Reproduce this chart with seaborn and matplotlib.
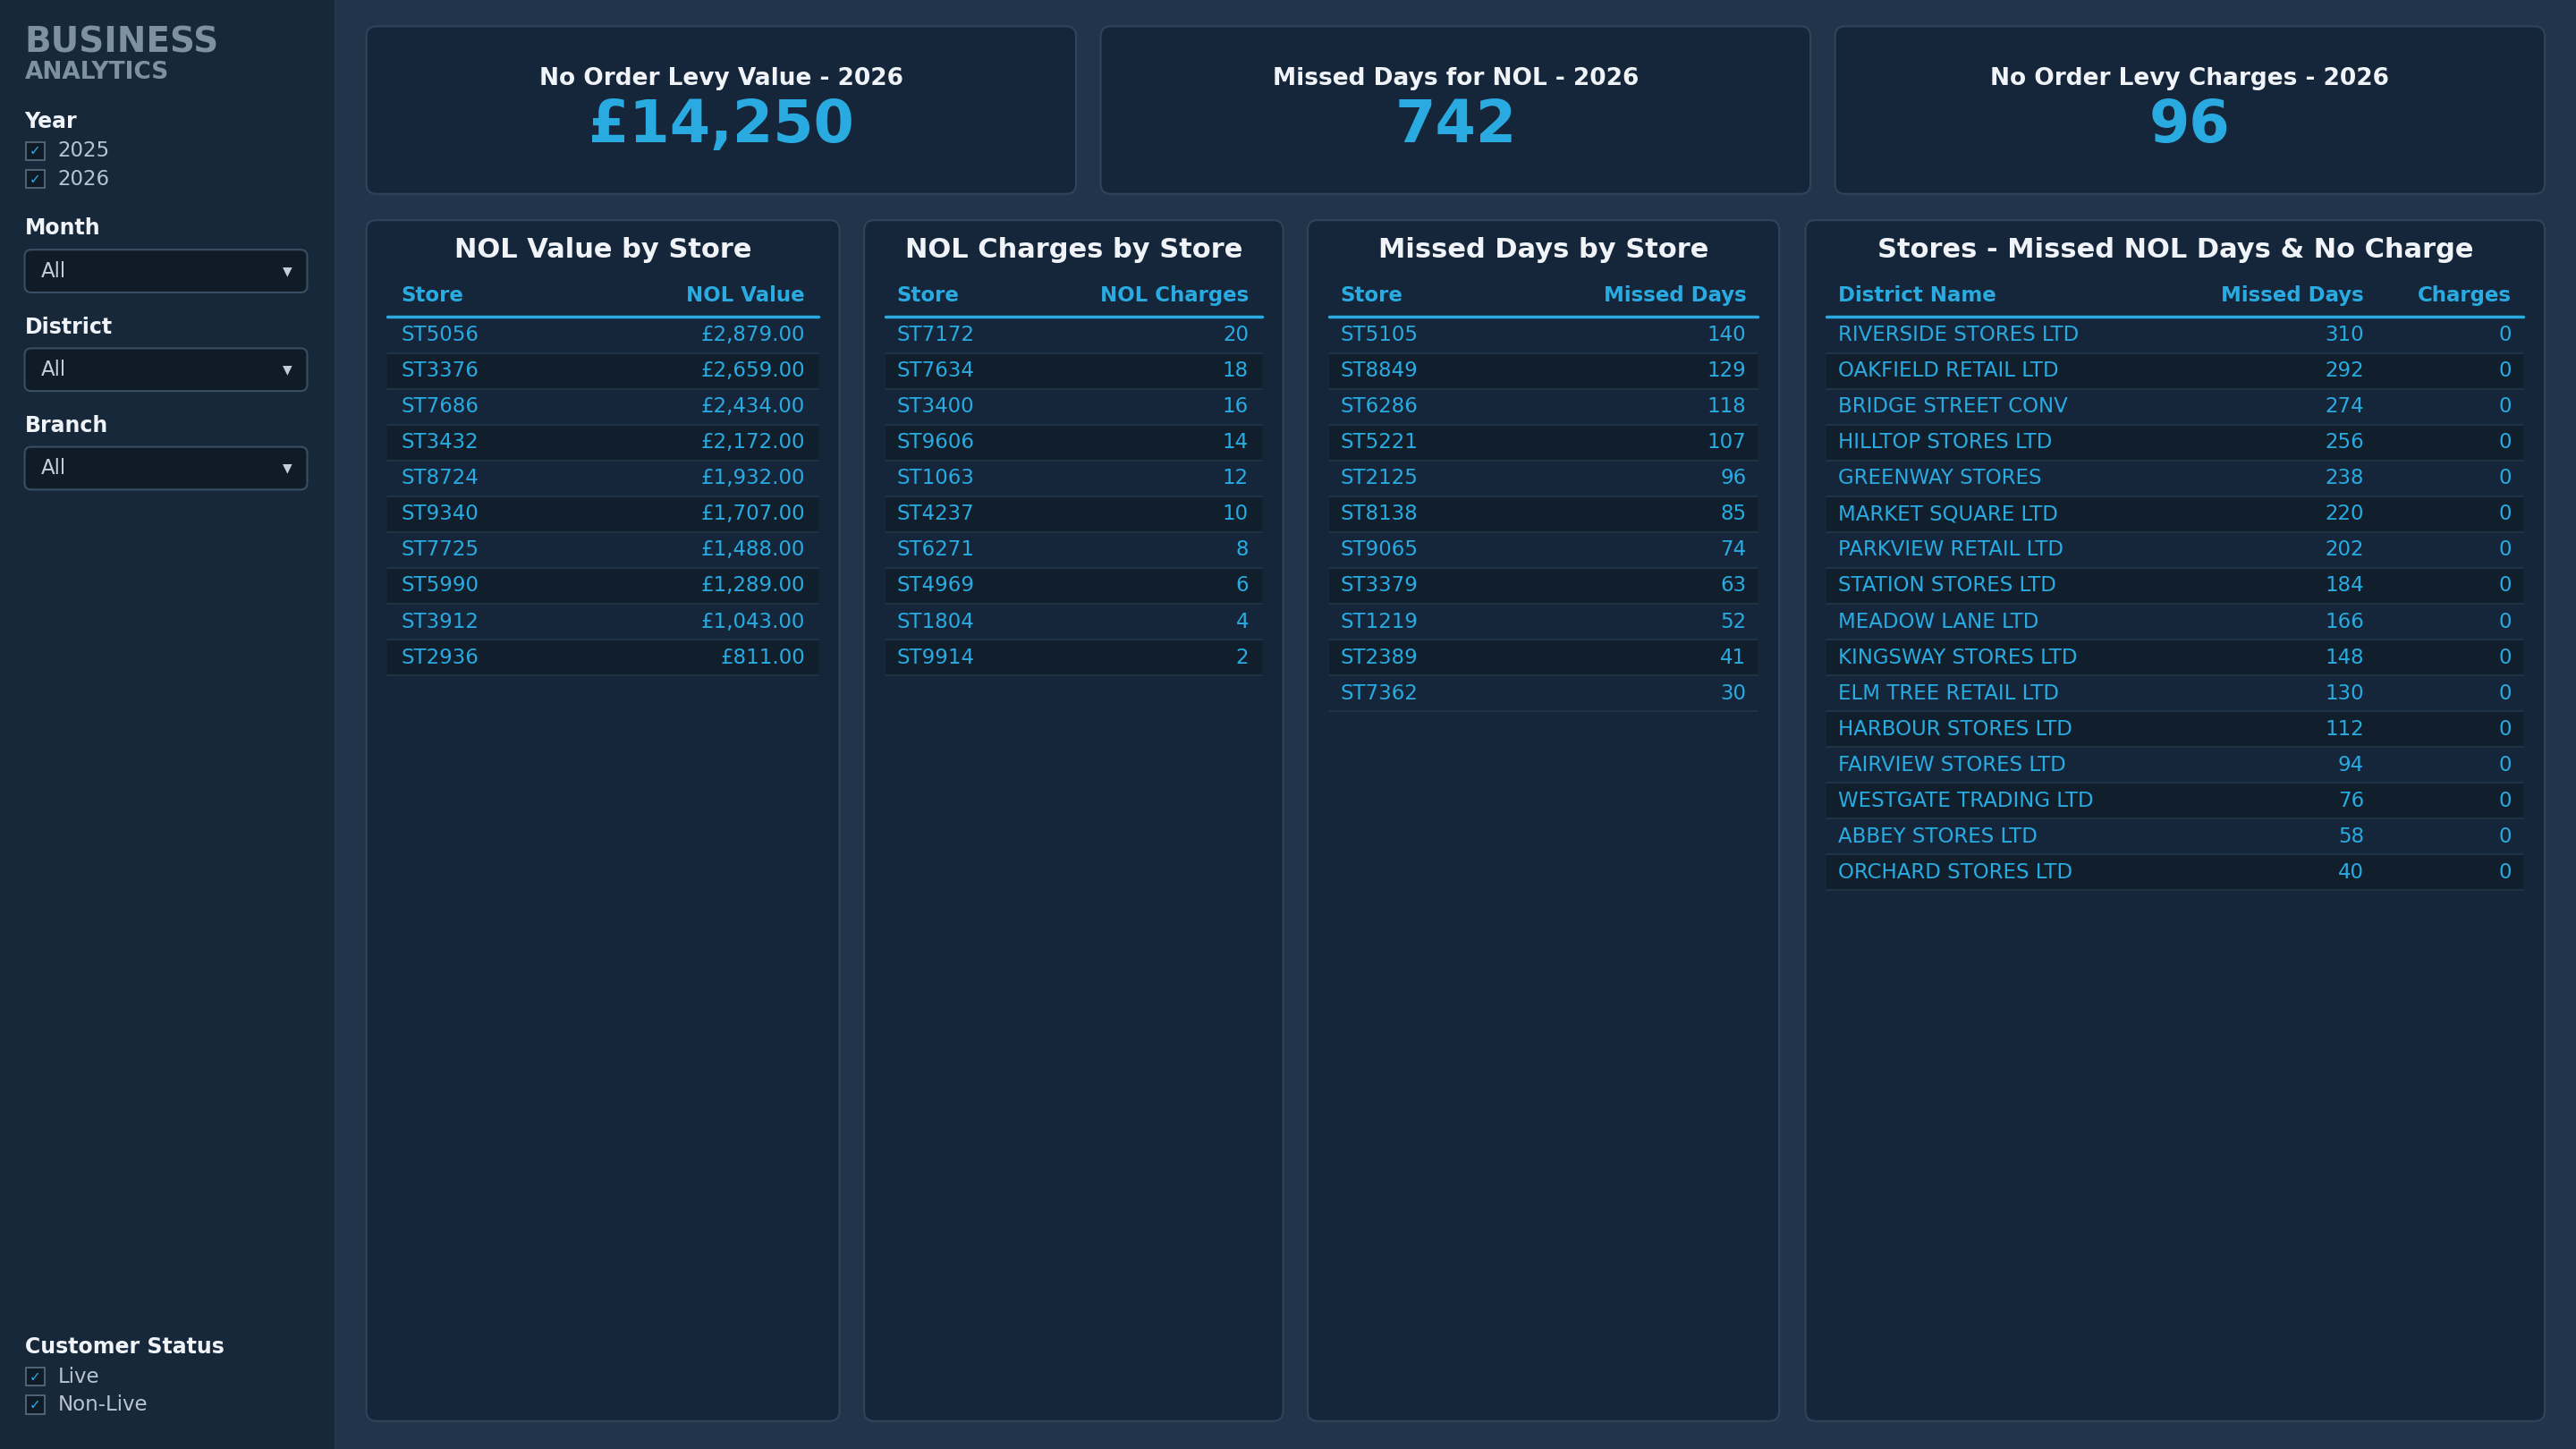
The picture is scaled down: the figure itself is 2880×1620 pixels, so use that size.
import matplotlib
matplotlib.use("Agg")
import matplotlib.pyplot as plt
from matplotlib.patches import FancyBboxPatch, Rectangle
import seaborn as sns

# ---- data ----
kpi_titles = ["No Order Levy Value - 2026", "Missed Days for NOL - 2026", "No Order Levy Charges - 2026"]
kpi_values = ["£14,250", "742", "96"]

value_stores = ["ST5056", "ST3376", "ST7686", "ST3432", "ST8724", "ST9340", "ST7725", "ST5990", "ST3912", "ST2936"]
value_amounts = [2879.00, 2659.00, 2434.00, 2172.00, 1932.00, 1707.00, 1488.00, 1289.00, 1043.00, 811.00]

charge_stores = ["ST7172", "ST7634", "ST3400", "ST9606", "ST1063", "ST4237", "ST6271", "ST4969", "ST1804", "ST9914"]
charge_counts = [20, 18, 16, 14, 12, 10, 8, 6, 4, 2]

missed_stores = ["ST5105", "ST8849", "ST6286", "ST5221", "ST2125", "ST8138", "ST9065", "ST3379", "ST1219", "ST2389", "ST7362"]
missed_days = [140, 129, 118, 107, 96, 85, 74, 63, 52, 41, 30]

districts = ["RIVERSIDE STORES LTD", "OAKFIELD RETAIL LTD", "BRIDGE STREET CONV", "HILLTOP STORES LTD",
             "GREENWAY STORES", "MARKET SQUARE LTD", "PARKVIEW RETAIL LTD", "STATION STORES LTD",
             "MEADOW LANE LTD", "KINGSWAY STORES LTD", "ELM TREE RETAIL LTD", "HARBOUR STORES LTD",
             "FAIRVIEW STORES LTD", "WESTGATE TRADING LTD", "ABBEY STORES LTD", "ORCHARD STORES LTD"]
district_missed = [310, 292, 274, 256, 238, 220, 202, 184, 166, 148, 130, 112, 94, 76, 58, 40]
district_charges = [0] * 16

# ---- style ----
PAGE, SIDE, CARD, EDGE = "#223449", "#17283a", "#15263a", "#2e445a"
ALT, CYAN, WHITE, GREY = "#111f2d", "#29abe2", "#f0f4f8", "#7d91a3"

sns.set_theme(style="dark")
plt.rcParams["font.family"] = ["DejaVu Sans"]

W, H = 1568, 882
fig = plt.figure(figsize=(28.8, 16.2), dpi=100, facecolor=PAGE)
ax = fig.add_axes([0, 0, 1, 1])
ax.set_xlim(0, W); ax.set_ylim(H, 0); ax.axis("off")
ax.set_facecolor(PAGE)


def box(x0, y0, x1, y1, fc, ec=EDGE, r=6, lw=1.5):
    ax.add_patch(FancyBboxPatch((x0, y0), x1 - x0, y1 - y0, boxstyle=f"round,pad=0,rounding_size={r}",
                                fc=fc, ec=ec, lw=lw))


def txt(x, y, s, size=16.5, color=CYAN, ha="left", bold=False):
    ax.text(x, y, s, fontsize=size, color=color, ha=ha, va="center", fontweight="bold" if bold else "normal")


# sidebar
ax.add_patch(Rectangle((0, 0), 204, H, fc=SIDE, ec="none"))
ax.plot([204, 204], [0, H], color="#26384c", lw=1.5)
txt(15, 26, "BUSINESS", 28, GREY, bold=True)
txt(15, 44, "ANALYTICS", 19, GREY, bold=True)


def checks(y, label, items):
    txt(15, y, label, 17, WHITE, bold=True)
    for i, it in enumerate(items):
        yy = y + 18 + i * 17
        ax.add_patch(Rectangle((16, yy - 5.5), 11, 11, fc="#0f1b27", ec="#5a6f82", lw=1.2))
        txt(21.5, yy, "✓", 11, CYAN, ha="center")
        txt(35, yy, it, 16.5, "#b8c4cf")


checks(74, "Year", ["2025", "2026"])
for lbl, y in [("Month", 139), ("District", 199), ("Branch", 259)]:
    txt(15, y, lbl, 17, WHITE, bold=True)
    box(15, y + 13, 187, y + 39, "#0f1b26", "#3a4f63", r=4)
    txt(25, y + 26, "All", 16.5, "#c4ced8")
    txt(175, y + 26, "▼", 10, "#c4ced8", ha="center")
checks(820, "Customer Status", ["Live", "Non-Live"])

# KPI cards
for (x0, x1), t, v in zip([(223, 655), (670, 1102), (1117, 1549)], kpi_titles, kpi_values):
    box(x0, 16, x1, 118, CARD)
    txt((x0 + x1) / 2, 48, t, 19, WHITE, ha="center", bold=True)
    txt((x0 + x1) / 2, 77, v, 47, CYAN, ha="center", bold=True)


def table(x0, x1, title, headers, cols_x, aligns, rows):
    box(x0, 134, x1, 865, CARD)
    txt((x0 + x1) / 2, 152, title, 22, WHITE, ha="center", bold=True)
    ix0, ix1 = x0 + 13, x1 - 13
    for h, cx, a in zip(headers, cols_x, aligns):
        txt(cx, 180, h, 16.5, CYAN, ha=a, bold=True)
    step = 21.8
    for i, row in enumerate(rows):
        yc = 204 + i * step
        if i % 2 == 1:
            ax.add_patch(Rectangle((ix0, yc - step / 2), ix1 - ix0, step, fc=ALT, ec="none"))
        ax.plot([ix0, ix1], [yc + step / 2, yc + step / 2], color="#22364a", lw=1.2)
        for s, cx, a in zip(row, cols_x, aligns):
            txt(cx, yc, s, 16.5, CYAN, ha=a)
    ax.plot([ix0, ix1], [193, 193], color=CYAN, lw=2.5)


table(223, 511, "NOL Value by Store", ["Store", "NOL Value"], [244, 490], ["left", "right"],
      [(s, f"£{v:,.2f}") for s, v in zip(value_stores, value_amounts)])
table(526, 781, "NOL Charges by Store", ["Store", "NOL Charges"], [546, 760], ["left", "right"],
      [(s, str(v)) for s, v in zip(charge_stores, charge_counts)])
table(796, 1083, "Missed Days by Store", ["Store", "Missed Days"], [816, 1063], ["left", "right"],
      [(s, str(v)) for s, v in zip(missed_stores, missed_days)])
table(1099, 1549, "Stores - Missed NOL Days & No Charge", ["District Name", "Missed Days", "Charges"],
      [1119, 1439, 1529], ["left", "right", "right"],
      [(d, str(m), str(c)) for d, m, c in zip(districts, district_missed, district_charges)])

fig.savefig("out.png", dpi=100, facecolor=PAGE)
